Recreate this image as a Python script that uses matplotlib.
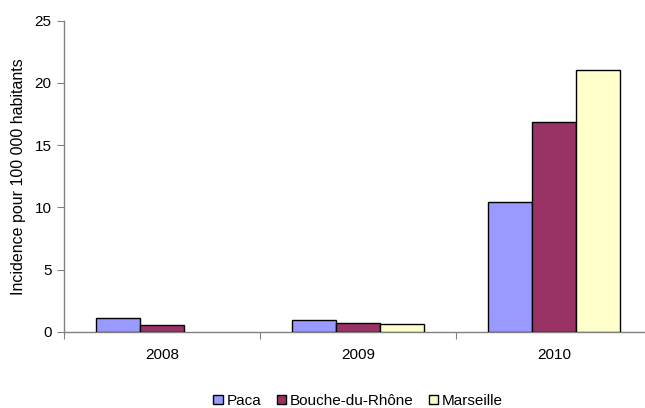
import matplotlib
matplotlib.use('Agg')
import matplotlib.pyplot as plt
import numpy as np

plt.rcParams['font.family'] = ['Liberation Sans', 'DejaVu Sans']

years = ['2008', '2009', '2010']
paca = [1.08, 0.92, 10.45]
bouches = [0.52, 0.70, 16.88]
marseille = [0.0, 0.62, 21.0]
series_names = ['Paca', 'Bouche-du-Rhône', 'Marseille']
colors = ['#9999FF', '#993366', '#FFFFCC']

W, H = 645, 408
fig = plt.figure(figsize=(W / 100, H / 100), dpi=100)
ax = fig.add_axes([64 / W, (H - 331.7) / H, (W - 64) / W, (331.7 - 20.7) / H])

x = np.arange(len(years))
width = 0.224
for i, (vals, name, col) in enumerate(zip([paca, bouches, marseille], series_names, colors)):
    v = np.array(vals)
    xs = x + (i - 1) * width
    mask = v > 0
    ax.bar(xs[mask], v[mask], width, color=col, edgecolor='black', linewidth=1.0,
           label=name, zorder=3)

ax.set_ylim(0, 25)
ax.set_xlim(-0.5, -0.5 + (W - 64) / 196)
ax.set_yticks(np.arange(0, 26, 5))
ax.set_xticks([-0.5, 0.5, 1.5])
ax.set_xticklabels([])
ax.set_xticks(x, minor=True)
ax.set_xticklabels(years, minor=True)
ax.tick_params(axis='x', which='minor', length=0, pad=12, labelsize=11)
ax.tick_params(axis='x', which='major', length=5, direction='out', color='#808080')
ax.tick_params(axis='y', length=5, direction='out', color='#808080', labelsize=11, pad=4)

for s in ['top', 'right']:
    ax.spines[s].set_visible(False)
for s in ['left', 'bottom']:
    ax.spines[s].set_color('#808080')
    ax.spines[s].set_linewidth(1.0)

ax.set_ylabel('Incidence pour 100 000 habitants', fontsize=11.5, labelpad=6)

leg = fig.legend(loc='center', bbox_to_anchor=(358 / W, 1 - 401 / H), ncol=3,
                 frameon=False, fontsize=11, handlelength=0.6, handleheight=0.6,
                 handletextpad=0.25, columnspacing=1.0)
for h in leg.legend_handles:
    h.set_linewidth(1.0)

fig.savefig('out.png', dpi=100)
